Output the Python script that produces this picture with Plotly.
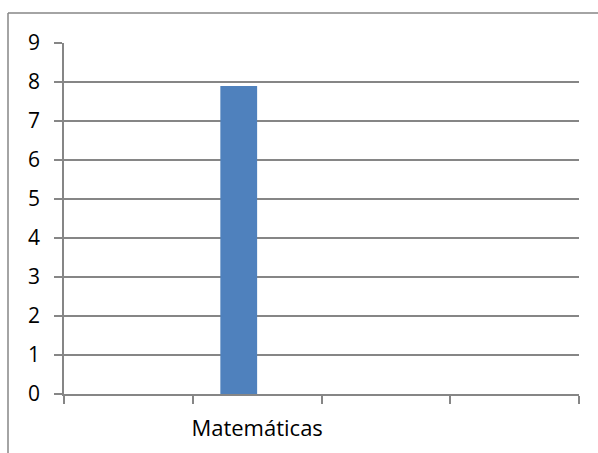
import plotly.graph_objects as go

# Category slots on the x axis (only one is labelled) and the series values
categories = [" ", "Matemáticas", "  ", "   "]
serie1 = [None, 7.9, None, None]

y_ticks = list(range(0, 10))

grid = "#868686"
family = "Open Sans, Liberation Sans, sans-serif"

fig = go.Figure()
fig.add_trace(go.Bar(
    x=categories,
    y=serie1,
    marker=dict(color="#4F81BD", line=dict(width=0)),
    width=0.2857,
    offset=-0.2857,
    showlegend=False,
))

W, H = 598, 453
L, R, T, B = 64, 19, 43, 59
pw, ph = W - L - R, H - T - B
left_px, top_px = 8, 13
bx = (left_px - L) / pw
by = (H - B - top_px) / ph

fig.update_layout(
    width=W, height=H,
    margin=dict(l=L, r=R, t=T, b=B, autoexpand=False),
    paper_bgcolor="white",
    plot_bgcolor="white",
    font=dict(family=family, size=21, color="#000000"),
    xaxis=dict(
        type="category",
        categoryorder="array",
        categoryarray=categories,
        range=[-0.5, len(categories) - 0.5],
        tickson="boundaries",
        ticks="outside",
        ticklen=8,
        tickcolor=grid,
        tickwidth=1.5,
        showline=True,
        linecolor=grid,
        linewidth=1.5,
        showgrid=False,
        tickangle=0,
        automargin=False,
        tickfont=dict(family=family, size=22, color="#000000"),
        ticklabelstandoff=14,
        fixedrange=True,
    ),
    yaxis=dict(
        range=[0, 9],
        tickvals=y_ticks,
        ticks="outside",
        ticklen=8,
        tickcolor=grid,
        tickwidth=1.5,
        showline=True,
        linecolor=grid,
        linewidth=1.5,
        showgrid=True,
        gridcolor=grid,
        gridwidth=1.5,
        zeroline=False,
        automargin=False,
        tickfont=dict(family=family, size=21, color="#000000"),
        ticklabelstandoff=10,
        fixedrange=True,
    ),
    shapes=[
        dict(type="line", xref="paper", yref="paper",
             x0=bx, x1=bx, y0=-0.3, y1=by,
             line=dict(color=grid, width=1.5)),
        dict(type="line", xref="paper", yref="paper",
             x0=bx, x1=1.2, y0=by, y1=by,
             line=dict(color=grid, width=1.5)),
    ],
)

fig.write_html("out.html")
